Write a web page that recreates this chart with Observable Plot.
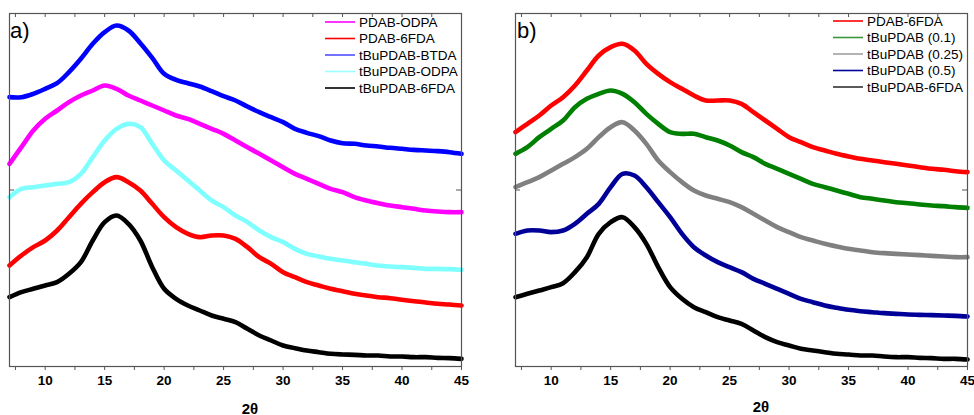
<!DOCTYPE html>
<html><head><meta charset="utf-8">
<script src="https://cdn.jsdelivr.net/npm/d3@7"></script>
<script src="https://cdn.jsdelivr.net/npm/@observablehq/plot@0.6"></script>
<style>
body{margin:0;background:#fff;font-family:Arial,"Liberation Sans",sans-serif;}
#root{position:relative;width:974px;height:415px;overflow:hidden;}
.panel{position:absolute;top:0;}
.lbl{position:absolute;font-size:22px;color:#000;}
.xlab{position:absolute;font-size:15px;font-weight:bold;transform:translate(-50%,-50%);white-space:nowrap;}
#legend{position:absolute;left:0;top:0;}
</style>
</head><body><div id="root"></div>
<script>
// 2θ sampling positions (degrees)
const twoTheta = [7,8,9,10,11,12,13,14,15,16,17,18,19,20,21,22,23,24,25,26,27,28,29,30,31,32,33,34,35,36,37,38,39,40,41,42,43,44,45];

// Panel a) intensities (a.u., stacked)
const aPDAB_ODPA   = [610,660,710,745,770,795,815,830,845,835,815,800,785,770,755,745,730,715,700,680,660,640,620,600,580,565,550,535,525,510,500,492,485,480,475,470,467,465,465];
const aPDAB_6FDA   = [305,335,360,380,410,450,490,525,555,570,555,530,490,450,420,400,390,395,395,385,360,330,310,285,270,255,245,235,228,220,215,210,207,202,198,194,190,188,185];
const aTBu_BTDA    = [810,810,820,835,852,885,925,970,1005,1025,1010,972,928,880,862,852,842,828,813,800,782,765,750,735,715,703,693,680,672,670,665,662,658,655,652,650,648,645,640];
const aTBu_ODPA    = [510,535,540,545,550,555,580,630,680,715,730,720,670,620,590,560,530,500,480,455,435,410,390,375,355,340,332,325,320,315,310,305,302,300,298,295,295,294,292];
const aTBu_6FDA    = [210,225,235,245,255,280,315,380,435,455,430,380,300,235,205,185,170,155,145,135,115,95,80,65,57,50,45,40,38,37,35,35,32,32,30,30,28,27,25];

// Panel b) intensities (a.u., stacked)
const bPDAB_6FDA   = [705,730,755,785,810,845,890,935,960,970,950,910,880,855,835,815,800,800,800,790,765,740,715,690,675,660,650,640,632,625,620,615,610,605,600,595,592,588,585];
const bTBu_010     = [640,660,690,715,740,780,805,820,830,820,795,760,730,705,700,700,690,680,665,645,630,610,595,580,565,550,540,530,520,510,505,500,495,492,488,485,483,480,478];
const bTBu_025     = [540,555,570,590,610,630,655,690,720,735,710,670,620,585,555,530,515,505,495,480,460,440,420,405,390,380,370,362,355,350,345,342,340,338,336,334,332,330,330];
const bTBu_050     = [400,410,410,405,410,430,460,490,540,580,575,540,495,450,400,360,335,315,300,285,265,250,235,220,205,195,185,178,172,168,165,162,160,158,157,156,155,154,152];
const bTBu_6FDA    = [210,220,230,240,252,285,330,400,435,450,420,370,300,240,205,180,165,150,140,130,110,90,75,65,55,50,45,40,38,35,35,32,30,30,28,27,25,25,23];

const namesA = ["PDAB-ODPA","PDAB-6FDA","tBuPDAB-BTDA","tBuPDAB-ODPA","tBuPDAB-6FDA"];
const namesB = ["PDAB-6FDA","tBuPDAB (0.1)","tBuPDAB (0.25)","tBuPDAB (0.5)","tBuPDAB-6FDA"];
const valuesA = [aPDAB_ODPA,aPDAB_6FDA,aTBu_BTDA,aTBu_ODPA,aTBu_6FDA];
const valuesB = [bPDAB_6FDA,bTBu_010,bTBu_025,bTBu_050,bTBu_6FDA];
const xTicks = [7.5,10,12.5,15,17.5,20,22.5,25,27.5,30,32.5,35,37.5,40,42.5,45];
const xDomain = [7,45];
const yDomain = [2,1061];

// styles
const colorsA = ["#ff00ff","#ff0000","#0000ff","#80ffff","#000000"];
const colorsB = ["#ff0000","#008000","#808080","#000099","#000000"];
const legendSwatchA = ["#ff00ff","#ff0000","#5050ff","#9affff","#000000"];
const legendSwatchB = ["#ff0000","#3c963c","#a0a0a0","#00009a","#333333"];

const root = document.getElementById("root");

function makePanel(names, values, colors, geom) {
  const rows = [];
  names.forEach((n, k) => twoTheta.forEach((x, i) => rows.push({x, y: values[k][i], name: n})));
  const innerW = geom.width - geom.ml - geom.mr;
  const innerH = 415 - 13 - 49;
  const chart = Plot.plot({
    width: geom.width, height: 415,
    marginLeft: geom.ml, marginRight: geom.mr, marginTop: 13, marginBottom: 49,
    style: {fontFamily: "Arial, 'Liberation Sans', sans-serif", fontSize: "13.5px", fontWeight: "bold", background: "transparent", overflow: "visible"},
    x: {domain: xDomain, label: null},
    y: {domain: yDomain, axis: null},
    color: {domain: names, range: colors},
    marks: [
      Plot.line(rows, {x: "x", y: "y", z: "name", stroke: "name", strokeWidth: 4.6, strokeLinejoin: "round", curve: "catmull-rom"}),
      Plot.frame({stroke: "#555", strokeWidth: 1.2}),
      Plot.axisX({ticks: xTicks, tickSize: 4, tickPadding: 5, stroke: "#555", fill: "#000", label: null,
                  tickFormat: d => (d % 5 === 0 ? String(d) : "")}),
      Plot.tickX(xTicks, {x: d => d, insetBottom: innerH - 4, stroke: "#555"}),
      Plot.tickY([(yDomain[0] + yDomain[1]) / 2], {y: d => d, insetRight: innerW - 5, stroke: "#555"}),
      Plot.tickY([(yDomain[0] + yDomain[1]) / 2], {y: d => d, insetLeft: innerW - 5, stroke: "#555"})
    ]
  });
  chart.classList.add("panel");
  chart.style.left = geom.left + "px";
  root.appendChild(chart);
}

makePanel(namesA, valuesA, colorsA, {left: 0, width: 490, ml: 9, mr: 29});
makePanel(namesB, valuesB, colorsB, {left: 490, width: 484, ml: 25, mr: 7});

function addText(cls, txt, x, y) {
  const d = document.createElement("div");
  d.className = cls; d.textContent = txt;
  d.style.left = x + "px"; d.style.top = y + "px";
  root.appendChild(d);
}
addText("lbl", "a)", 10, 18);
addText("lbl", "b)", 517, 18);
addText("xlab", "2θ", 250, 408);
addText("xlab", "2θ", 761, 406);

// legends as an SVG overlay
const svgNS = "http://www.w3.org/2000/svg";
const leg = document.createElementNS(svgNS, "svg");
leg.setAttribute("id", "legend");
leg.setAttribute("width", 974);
leg.setAttribute("height", 415);
root.appendChild(leg);
function legend(names, swatches, lineX, textX, ys) {
  names.forEach((n, i) => {
    const l = document.createElementNS(svgNS, "line");
    l.setAttribute("x1", lineX); l.setAttribute("x2", lineX + 30);
    l.setAttribute("y1", ys[i]); l.setAttribute("y2", ys[i]);
    l.setAttribute("stroke", swatches[i]); l.setAttribute("stroke-width", 1.6);
    leg.appendChild(l);
    const t = document.createElementNS(svgNS, "text");
    t.setAttribute("x", textX); t.setAttribute("y", ys[i]);
    t.setAttribute("dy", "0.36em");
    t.setAttribute("font-size", "13.5");
    t.setAttribute("font-family", "Arial, 'Liberation Sans', sans-serif");
    t.textContent = n;
    leg.appendChild(t);
  });
}
legend(namesA, legendSwatchA, 325, 359, [22, 38.5, 55, 71.5, 88]);
legend(namesB, legendSwatchB, 833, 867, [21, 37.5, 54, 70.5, 87]);
</script>
</body></html>
